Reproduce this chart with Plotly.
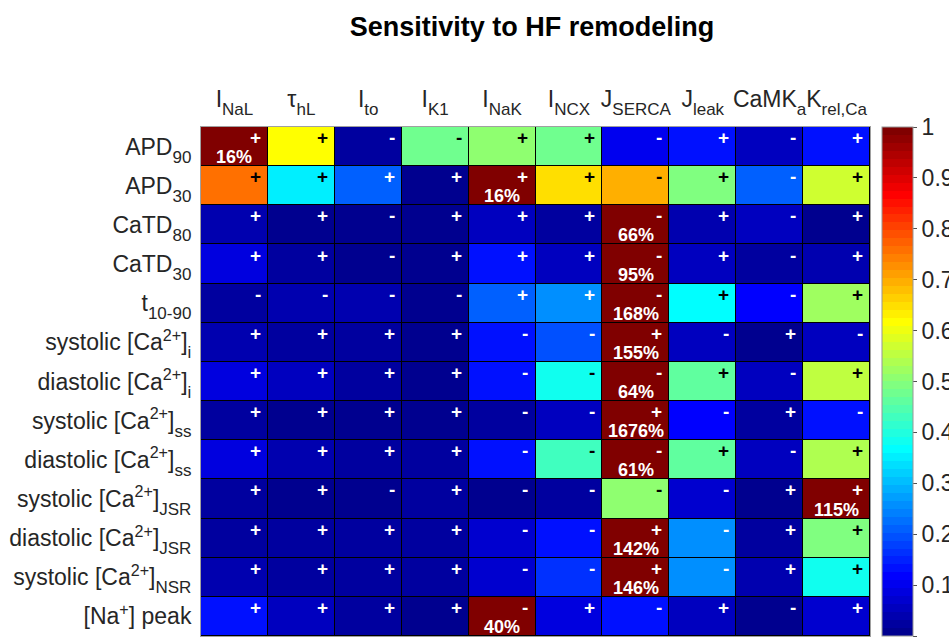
import plotly.graph_objects as go

# Model parameters (columns) and output biomarkers (rows): (main text, subscript)
params = [("I", "NaL"), ("τ", "hL"), ("I", "to"), ("I", "K1"), ("I", "NaK"),
          ("I", "NCX"), ("J", "SERCA"), ("J", "leak"), ("CaMK", "a"), ("K", "rel,Ca")]
outputs = [("APD", "90"), ("APD", "30"), ("CaTD", "80"), ("CaTD", "30"), ("t", "10-90"),
           ("systolic [Ca<sup>2+</sup>]", "i"), ("diastolic [Ca<sup>2+</sup>]", "i"),
           ("systolic [Ca<sup>2+</sup>]", "ss"), ("diastolic [Ca<sup>2+</sup>]", "ss"),
           ("systolic [Ca<sup>2+</sup>]", "JSR"), ("diastolic [Ca<sup>2+</sup>]", "JSR"),
           ("systolic [Ca<sup>2+</sup>]", "NSR"), ("[Na<sup>+</sup>] peak", "")]

# Row-normalised sensitivity (max of each row = 1)
sensitivity = [
    [1.00, 0.62, 0.02, 0.47, 0.50, 0.47, 0.10, 0.125, 0.05, 0.14],
    [0.75, 0.35, 0.21, 0.01, 1.00, 0.645, 0.70, 0.49, 0.21, 0.575],
    [0.04, 0.00, 0.00, 0.01, 0.06, 0.03, 1.00, 0.04, 0.05, 0.00],
    [0.09, 0.03, 0.01, 0.01, 0.13, 0.06, 1.00, 0.05, 0.03, 0.04],
    [0.03, 0.04, 0.04, 0.00, 0.21, 0.26, 1.00, 0.36, 0.12, 0.525],
    [0.04, 0.03, 0.02, 0.01, 0.13, 0.20, 1.00, 0.05, 0.00, 0.06],
    [0.08, 0.05, 0.02, 0.01, 0.13, 0.375, 1.00, 0.46, 0.06, 0.55],
    [0.02, 0.01, 0.01, 0.01, 0.03, 0.05, 1.00, 0.11, 0.02, 0.125],
    [0.09, 0.04, 0.02, 0.02, 0.13, 0.425, 1.00, 0.455, 0.06, 0.54],
    [0.02, 0.00, 0.01, 0.02, 0.00, 0.02, 0.50, 0.07, 0.00, 1.00],
    [0.03, 0.03, 0.02, 0.02, 0.07, 0.14, 1.00, 0.25, 0.03, 0.49],
    [0.04, 0.03, 0.02, 0.02, 0.07, 0.17, 1.00, 0.26, 0.04, 0.375],
    [0.13, 0.05, 0.02, 0.01, 1.00, 0.08, 0.125, 0.05, 0.00, 0.07],
]

# Direction of each effect
signs = [
    "++--++-+-+",
    "++++++-+-+",
    "++-+++-+-+",
    "++-+++-+-+",
    "----++-+-+",
    "++++--+-+-",
    "++++---+-+",
    "++++--+-+-",
    "++++---+-+",
    "++-+----++",
    "++++--+-++",
    "++++--+-++",
    "++++-+-+-+",
]

# Largest absolute sensitivity in each row (%), shown in the peak cell
peak_col = [0, 4, 6, 6, 6, 6, 6, 6, 6, 9, 6, 6, 4]
peak_pct = [16, 16, 66, 95, 168, 155, 64, 1676, 61, 115, 142, 146, 40]


def jet64():
    cols = []
    for k in range(1, 65):
        if k <= 8:
            r, g, b = 0, 0, (k + 8) / 16
        elif k <= 24:
            r, g, b = 0, (k - 8) / 16, 1
        elif k <= 40:
            r, g, b = (k - 24) / 16, 1, (40 - k) / 16
        elif k <= 56:
            r, g, b = 1, (56 - k) / 16, 0
        else:
            r, g, b = (72 - k) / 16, 0, 0
        cols.append(f"rgb({round(r*255)},{round(g*255)},{round(b*255)})")
    scale = []
    n = len(cols)
    for i, c in enumerate(cols):
        scale.append([i / n, c])
        scale.append([(i + 1) / n, c])
    return scale


def label(main, sub):
    if not sub:
        return main
    return f'{main}<span style="font-size:17px;baseline-shift:-8px">{sub}</span>'


FONT = "Liberation Sans, Arial, sans-serif"
nrow, ncol = len(outputs), len(params)

fig = go.Figure()
fig.add_trace(go.Heatmap(
    z=sensitivity,
    x=list(range(ncol)),
    y=list(range(nrow)),
    zmin=0, zmax=1,
    colorscale=jet64(),
    xgap=1, ygap=1,
    hoverinfo="skip",
    colorbar=dict(
        x=1.018, xanchor="left", xpad=0, ypad=0,
        y=0.5, yanchor="middle", len=1, lenmode="fraction",
        thickness=31, thicknessmode="pixels",
        outlinecolor="rgb(150,150,150)", outlinewidth=1,
        tickmode="array", tickvals=[i / 10 for i in range(11)],
        ticktext=["0"] + [f"{i/10:.1f}" for i in range(1, 10)] + ["1"],
        ticks="outside", ticklen=4, tickcolor="rgb(80,80,80)",
        tickfont=dict(family=FONT, size=23, color="#262626"),
    ),
))

annotations = []
for i in range(nrow):
    for j in range(ncol):
        v = sensitivity[i][j]
        col = "black" if 0.34 <= v < 0.9 else "white"
        annotations.append(dict(
            x=j + 0.5 - 0.075, y=i - 0.5 + 0.27, xref="x", yref="y",
            text=f"<b>{signs[i][j]}</b>", showarrow=False,
            xanchor="right", yanchor="middle",
            font=dict(family=FONT, size=19, color=col),
        ))
    annotations.append(dict(
        x=peak_col[i], y=i + 0.27, xref="x", yref="y",
        text=f"<b>{peak_pct[i]}%</b>", showarrow=False,
        xanchor="center", yanchor="middle",
        font=dict(family=FONT, size=18, color="white"),
    ))

fig.update_layout(
    width=949, height=642,
    margin=dict(l=201, r=79, t=127, b=6, autoexpand=False),
    paper_bgcolor="white",
    plot_bgcolor="black",
    title=dict(text="<b>Sensitivity to HF remodeling</b>", x=532 / 949, xref="container", xanchor="center",
               y=1 - 27 / 642, yref="container", yanchor="middle",
               font=dict(family=FONT, size=27, color="black")),
    annotations=annotations,
    showlegend=False,
)
fig.update_xaxes(
    side="top", tickmode="array", tickvals=list(range(ncol)),
    ticktext=[label(m, s) for m, s in params],
    tickangle=0,
    range=[-0.5, ncol - 0.5], showgrid=False, zeroline=False, ticks="",
    showline=True, linecolor="rgb(160,160,160)", linewidth=1, mirror=True,
    ticklabelstandoff=10,
    tickfont=dict(family=FONT, size=23, color="#262626"),
)
fig.update_yaxes(
    tickmode="array", tickvals=list(range(nrow)),
    ticktext=[label(m, s) for m, s in outputs],
    range=[nrow - 0.5, -0.5], showgrid=False, zeroline=False, ticks="",
    showline=True, linecolor="rgb(160,160,160)", linewidth=1, mirror=True,
    ticklabelstandoff=4,
    tickfont=dict(family=FONT, size=23, color="#262626"),
)

fig.write_html("out.html")
